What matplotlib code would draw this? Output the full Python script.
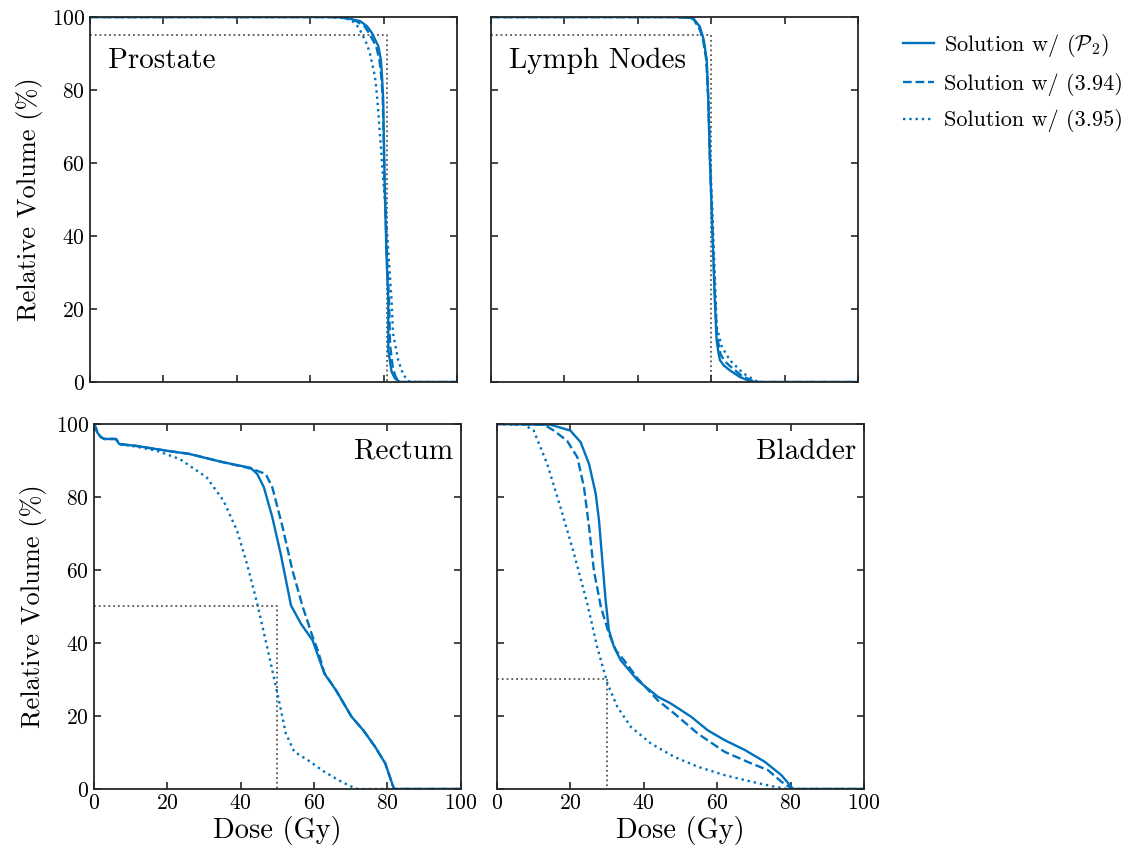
import matplotlib
matplotlib.use('Agg')
import matplotlib.pyplot as plt
import numpy as np

# ================= Fonts =================
plt.rcParams['font.family'] = ['cmr10', 'DejaVu Serif']
plt.rcParams['mathtext.fontset'] = 'cm'
plt.rcParams['axes.unicode_minus'] = False
plt.rcParams['axes.formatter.use_mathtext'] = True

# ================= DVH data (dose in Gy, relative volume in %) =================
# Prostate
prostate_p2_dose = [0, 66, 68, 70, 73.6, 75.5, 76.8, 78.6, 79.3, 79.6, 79.9, 80.3, 80.8, 81.3, 81.3, 82.2, 83.1, 84.5, 100]
prostate_p2_vol = [100, 100, 99.9, 99.7, 98.9, 97.5, 95.7, 92.0, 88.2, 83.6, 77.7, 55.0, 35.0, 22.5, 8.7, 2.8, 1.0, 0, 0]
prostate_394_dose = [0, 65, 67, 69.5, 72.5, 74.8, 76.0, 78.0, 78.9, 79.4, 79.8, 80.3, 80.9, 81.5, 81.8, 82.6, 83.4, 84.8, 100]
prostate_394_vol = [100, 100, 99.9, 99.7, 98.9, 97.5, 95.7, 92.0, 88.2, 83.6, 77.7, 55.0, 35.0, 22.5, 10.0, 3.5, 1.2, 0, 0]
prostate_395_dose = [0, 65, 68, 70, 71.5, 72.7, 73.6, 74.5, 75.5, 76.3, 77.7, 78.3, 79.6, 80.7, 82.2, 82.6, 84.0, 85.4, 87.2, 100]
prostate_395_vol = [100, 100, 99.9, 99.6, 98.9, 97.8, 96.4, 94.6, 92.5, 90.0, 83.6, 77.7, 60.0, 45.0, 22.4, 13.3, 6.0, 1.9, 0, 0]

# Lymph nodes
lymph_p2_dose = [0, 50, 52.4, 55.1, 56.9, 58.0, 58.8, 59.2, 59.7, 60.4, 61.0, 61.5, 62.0, 62.4, 63.5, 65.1, 67.8, 70.6, 72.4, 100]
lymph_p2_vol = [100, 100, 99.9, 99.7, 97.4, 93.7, 88.2, 78.1, 60.0, 40.0, 22.4, 11.5, 8.0, 6.0, 4.5, 3.2, 1.4, 0.2, 0, 0]
lymph_394_dose = [0, 50, 52.2, 54.9, 56.7, 57.8, 58.7, 59.2, 59.7, 60.4, 61.1, 61.6, 62.6, 63.8, 65.1, 68.2, 71.5, 73.2, 100]
lymph_394_vol = [100, 100, 99.9, 99.7, 97.4, 93.7, 88.2, 78.1, 60.0, 40.0, 22.4, 12.5, 7.5, 5.6, 4.4, 1.8, 0.2, 0, 0]
lymph_395_dose = [0, 50, 52.0, 54.7, 56.6, 57.8, 58.7, 59.2, 59.8, 60.6, 61.2, 61.5, 62.9, 65.1, 68.7, 72.4, 74.1, 100]
lymph_395_vol = [100, 100, 99.9, 99.7, 97.4, 93.7, 88.2, 78.1, 60.0, 40.0, 24.0, 15.2, 9.7, 6.0, 2.4, 0.2, 0, 0]

# Rectum
rectum_p2_dose = [0, 0.5, 0.9, 1.8, 2.75, 6.0, 6.9, 11.5, 19.7, 26.0, 35.3, 42.7, 44.5, 46.3, 48.6, 50.9,
                  53.7, 56.4, 59.6, 62.8, 66.0, 70.2, 73.4, 76.6, 79.4, 81.7, 82.0, 100]
rectum_p2_vol = [100, 99, 97.7, 96.5, 95.9, 95.9, 94.5, 94.0, 92.7, 91.8, 89.5, 88.0, 86.3, 82.7, 74.5, 64.4,
                 50.3, 45.3, 40.7, 31.6, 27.0, 19.8, 16.1, 11.6, 7.0, 0.2, 0, 0]
rectum_394_dose = [0, 0.5, 0.9, 1.8, 2.75, 6.0, 6.9, 11.5, 19.7, 26.0, 35.3, 43.1, 46.8, 48.6, 51.4, 54.1,
                   56.9, 59.6, 61.0, 62.8, 66.0, 70.2, 73.4, 76.6, 79.4, 81.7, 82.0, 100]
rectum_394_vol = [100, 99, 97.7, 96.5, 95.9, 95.9, 94.5, 94.0, 92.7, 91.8, 89.5, 87.7, 86.3, 82.7, 71.8, 59.9,
                  49.9, 41.7, 38.0, 31.8, 27.0, 19.8, 16.1, 11.6, 7.0, 0.2, 0, 0]
rectum_395_dose = [0, 0.5, 0.9, 1.8, 2.75, 6.0, 6.9, 11.5, 17.0, 23.4, 30.7, 35.3, 39.0, 41.7, 44.5, 47.2,
                   50.0, 52.3, 54.6, 58.3, 62.8, 67.4, 71.1, 72.0, 100]
rectum_395_vol = [100, 99, 97.7, 96.5, 95.9, 95.9, 94.5, 93.8, 92.7, 90.4, 85.4, 79.0, 70.8, 61.7, 50.8, 38.9,
                  26.2, 15.2, 10.2, 7.9, 4.7, 2.0, 0.2, 0, 0]

# Bladder
bladder_p2_dose = [0, 14.6, 20.0, 22.8, 25.1, 26.9, 27.8, 28.7, 29.6, 30.5, 31.9, 33.7, 38.3, 43.8, 47.4,
                   52.9, 57.4, 62.0, 67.5, 72.9, 77.5, 80.2, 80.7, 100]
bladder_p2_vol = [100, 99.8, 98.2, 95.0, 89.0, 80.9, 73.6, 62.6, 51.7, 43.5, 38.9, 35.3, 29.8, 25.3, 23.4,
                  19.8, 16.1, 13.4, 10.7, 7.5, 3.8, 0.6, 0, 0]
bladder_394_dose = [0, 12.8, 15.5, 19.1, 21.9, 23.7, 25.1, 26.4, 28.3, 30.5, 32.4, 34.6, 38.3, 43.8, 48.3,
                    54.7, 62.0, 69.3, 73.8, 77.5, 80.2, 80.6, 100]
bladder_394_vol = [100, 99.8, 98.2, 95.4, 90.9, 82.7, 71.7, 59.9, 49.9, 42.6, 38.0, 35.3, 30.3, 24.3, 20.7,
                   15.2, 10.2, 7.0, 5.2, 2.0, 0.2, 0, 0]
bladder_395_dose = [0, 7.3, 10.0, 13.7, 17.3, 21.0, 24.6, 27.3, 30.1, 32.8, 36.5, 41.9, 48.3, 54.7, 62.0,
                    69.3, 75.7, 79.3, 100]
bladder_395_vol = [100, 99.8, 98.2, 89.0, 77.2, 64.4, 50.8, 38.9, 28.9, 22.5, 17.0, 12.5, 8.8, 6.1, 3.8,
                   2.0, 0.6, 0, 0]

# Dose-volume constraints (dose, volume)
constraints = {
    'Prostate': (81, 95),
    'Lymph Nodes': (60, 95),
    'Rectum': (50, 50),
    'Bladder': (30, 30),
}

labels = [r'Solution w/ ($\mathcal{P}_2$)', 'Solution w/ (3.94)', 'Solution w/ (3.95)']

# ================= Plotting =================
blue = '#0072BD'
styles = ['-', '--', ':']

fig = plt.figure(figsize=(11.36, 8.48), dpi=100)
w, h = 0.323, 0.4304
ax_pos = {
    'Prostate': [0.0792, 0.5495, w, h],
    'Lymph Nodes': [0.4322, 0.5495, w, h],
    'Rectum': [0.0827, 0.0696, w, h],
    'Bladder': [0.4375, 0.0696, w, h],
}
curves = {
    'Prostate': [(prostate_p2_dose, prostate_p2_vol), (prostate_394_dose, prostate_394_vol),
                 (prostate_395_dose, prostate_395_vol)],
    'Lymph Nodes': [(lymph_p2_dose, lymph_p2_vol), (lymph_394_dose, lymph_394_vol),
                    (lymph_395_dose, lymph_395_vol)],
    'Rectum': [(rectum_p2_dose, rectum_p2_vol), (rectum_394_dose, rectum_394_vol),
               (rectum_395_dose, rectum_395_vol)],
    'Bladder': [(bladder_p2_dose, bladder_p2_vol), (bladder_394_dose, bladder_394_vol),
                (bladder_395_dose, bladder_395_vol)],
}

handles = []
for name, pos in ax_pos.items():
    ax = fig.add_axes(pos)
    d, v = constraints[name]
    # constraint box: horizontal to the dose, then down to zero
    ax.plot([0, d, d], [v, v, 0], ls=':', color='#555555', lw=1.3, zorder=1)
    for (x, y), ls in zip(curves[name], styles):
        ln, = ax.plot(x, y, ls=ls, color=blue, lw=1.7, zorder=2)
        if name == 'Prostate':
            handles.append(ln)

    ax.set_xlim(0, 100)
    ax.set_ylim(0, 100)
    ax.set_xticks(np.arange(0, 101, 20))
    ax.set_yticks(np.arange(0, 101, 20))
    ax.tick_params(direction='in', top=True, right=True, length=5, width=1.2,
                   labelsize=15.5, color='#262626')
    for sp in ax.spines.values():
        sp.set_linewidth(1.3)
        sp.set_color('#262626')

    top = name in ('Prostate', 'Lymph Nodes')
    left = name in ('Prostate', 'Rectum')
    if top:
        ax.tick_params(labelbottom=False)
        ax.text(0.05, 0.88, name, transform=ax.transAxes, fontsize=21, va='center', ha='left')
    else:
        ax.set_xlabel('Dose (Gy)', fontsize=20.5, labelpad=2)
        ax.text(0.98, 0.925, name, transform=ax.transAxes, fontsize=21, va='center', ha='right')
    if left:
        ax.set_ylabel('Relative Volume (%)', fontsize=19, labelpad=6)
    else:
        ax.tick_params(labelleft=False)

fig.legend(handles, labels, loc='upper left', bbox_to_anchor=(0.777, 0.986), frameon=False,
           fontsize=16, handlelength=1.4, handletextpad=0.45, labelspacing=0.62)

plt.savefig('out.png', dpi=100)
